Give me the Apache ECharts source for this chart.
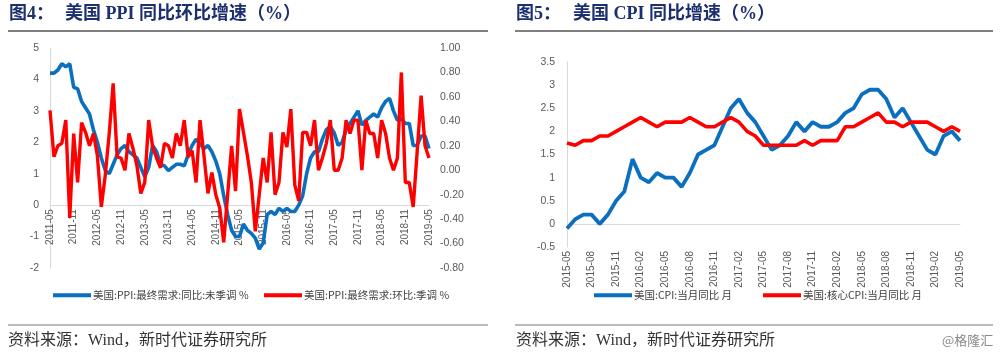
<!DOCTYPE html>
<html>
<head>
<meta charset="utf-8">
<script src="https://cdn.jsdelivr.net/npm/echarts@6/dist/echarts.min.js"></script>
<style>
html,body{margin:0;padding:0;background:#fff;}
#c{width:1000px;height:360px;}
</style>
</head>
<body>
<div id="c"></div>
<script>
// ---------- data ----------
function monthRange(y0, m0, y1, m1) {
  const out = [];
  let y = y0, m = m0;
  while (y < y1 || (y === y1 && m <= m1)) {
    out.push(y + '-' + (m < 10 ? '0' + m : '' + m));
    m++; if (m > 12) { m = 1; y++; }
  }
  return out;
}
const ppiMonths = monthRange(2011, 5, 2019, 5);   // 97 months
const cpiMonths = monthRange(2015, 5, 2019, 5);   // 49 months

const ppiYoY = [
  4.2, 4.2, 4.3, 4.5, 4.4, 4.5, 3.75, 3.7,
  3.3, 3.1, 2.9, 2.4, 2.0, 1.5, 1.1, 1.0, 1.3, 1.6, 1.8, 1.9,
  1.7, 1.6, 1.5, 1.2, 0.9, 1.2, 1.9, 1.7, 1.3, 1.25, 1.1, 1.2,
  1.3, 1.3, 1.25, 1.6, 1.9, 2.1, 1.95, 1.8, 1.9, 1.7, 1.4, 1.0,
  0.3, -0.3, -0.8, -1.0, -1.0, -0.6, -0.8, -0.9, -1.05, -1.4, -1.2, -0.3,
  -0.2, -0.3, -0.1, -0.2, -0.1, -0.2, -0.2, 0.0, 0.3, 1.0, 1.5, 1.7,
  1.7, 2.1, 2.4, 2.5, 2.3, 1.9, 2.0, 2.4, 2.6, 2.8, 3.0, 2.55,
  2.7, 2.8, 2.9, 2.8, 3.1, 3.3, 3.4, 3.0, 2.7, 2.75, 2.6, 2.6,
  1.9, 1.9, 2.2, 2.2, 1.8
];
const ppiMoM = [
  0.49, 0.11, 0.2, 0.22, 0.41, -0.39, 0.3, -0.1,
  0.39, 0.31, 0.2, 0.3, 0.12, -0.3, -0.04, 0.3, 0.71, 0.11, 0.1, 0.0,
  0.3, 0.18, 0.04, -0.19, -0.1, 0.41, 0.19, 0.1, 0.02, 0.22, 0.2, 0.1,
  0.3, 0.2, 0.41, 0.11, 0.16, -0.1, 0.41, 0.12, -0.19, -0.02, -0.2, -0.31,
  -0.59, -0.2, 0.2, -0.17, 0.5, 0.31, 0.12, -0.1, -0.5, -0.2, 0.1, -0.1,
  0.31, -0.2, -0.1, 0.31, 0.19, 0.5, -0.12, -0.25, 0.31, 0.31, 0.2, 0.41,
  0.0, 0.1, 0.22, 0.41, 0.0, 0.0, 0.1, 0.41, 0.3, 0.41, 0.41, 0.0,
  0.41, 0.3, 0.3, 0.1, 0.41, 0.3, 0.1, 0.0, 0.1, 0.8, -0.1, -0.1,
  -0.3, 0.15, 0.61, 0.2, 0.1
];
const cpiYoY = [
  -0.1, 0.1, 0.2, 0.2, 0.0, 0.2, 0.5, 0.7,
  1.4, 1.0, 0.9, 1.1, 1.0, 1.0, 0.8, 1.1, 1.5, 1.6, 1.7, 2.1,
  2.5, 2.7, 2.4, 2.2, 1.9, 1.6, 1.7, 1.9, 2.2, 2.0, 2.2, 2.1,
  2.1, 2.2, 2.4, 2.5, 2.8, 2.9, 2.9, 2.7, 2.3, 2.5, 2.2, 1.9,
  1.6, 1.5, 1.9, 2.0, 1.8
];
const coreCpiYoY = [
  1.75, 1.7, 1.8, 1.8, 1.9, 1.9, 2.0, 2.1,
  2.2, 2.3, 2.2, 2.1, 2.2, 2.2, 2.2, 2.3, 2.2, 2.1, 2.1, 2.2,
  2.3, 2.2, 2.0, 1.9, 1.7, 1.7, 1.7, 1.7, 1.7, 1.8, 1.7, 1.8,
  1.8, 1.8, 2.1, 2.1, 2.2, 2.3, 2.4, 2.2, 2.2, 2.1, 2.2, 2.2,
  2.2, 2.1, 2.0, 2.1, 2.0
];
const seriesNames = {
  ppiYoY: '美国:PPI:最终需求:同比:未季调 %',
  ppiMoM: '美国:PPI:最终需求:环比:季调 %',
  cpi: '美国:CPI:当月同比 月',
  core: '美国:核心CPI:当月同比 月'
};
const titles = {
  leftNo: '图4：', left: '美国 PPI 同比环比增速（%）',
  rightNo: '图5：', right: '美国 CPI 同比增速（%）',
  source: '资料来源：Wind，新时代证券研究所',
  mark: '@格隆汇'
};

// ---------- styling ----------
const BLUE = '#0b6fc0';
const RED = '#ff0000';
const AXIS_GRAY = '#d9d9d9';
const LABEL = '#595959';
const NUMFONT = "'Liberation Sans', Arial, sans-serif";
const CJK = "'Noto Sans CJK SC', sans-serif";
const SERIF = "'Liberation Serif', 'Noto Sans CJK SC', serif";

// left panel geometry (value axis -2..5)
const L_TOP = 48, L_H = 220, L_MIN = -2, L_MAX = 5;
const leftZeroOffset = -L_H * (0 - L_MIN) / (L_MAX - L_MIN);

const chart = echarts.init(document.getElementById('c'), null, {renderer: 'canvas'});

function legend(name, left) {
  return {
    data: [name], left: left, top: 285, icon: 'rect',
    itemWidth: 38, itemHeight: 4, itemGap: 0,
    textStyle: {fontSize: 10.5, color: '#404040', fontFamily: CJK, padding: [0, 0, 0, -3]},
    selectedMode: false
  };
}

const option = {
  animation: false,
  backgroundColor: '#ffffff',
  grid: [
    {left: 50, top: L_TOP, width: 379, height: L_H},
    {left: 567, top: 62, width: 393, height: 185}
  ],
  legend: [
    legend(seriesNames.ppiYoY, 48),
    legend(seriesNames.ppiMoM, 259),
    legend(seriesNames.cpi, 589),
    legend(seriesNames.core, 758)
  ],
  xAxis: [
    {
      gridIndex: 0, type: 'category', data: ppiMonths, boundaryGap: false,
      position: 'bottom', offset: leftZeroOffset,
      axisLine: {onZero: false, lineStyle: {color: AXIS_GRAY, width: 1}},
      axisTick: {show: false},
      axisLabel: {rotate: 90, interval: 5, fontSize: 10, color: LABEL, fontFamily: NUMFONT, margin: 4}
    },
    {
      gridIndex: 1, type: 'category', data: cpiMonths, boundaryGap: false,
      axisLine: {onZero: true, onZeroAxisIndex: 2, lineStyle: {color: AXIS_GRAY, width: 1}},
      axisTick: {show: false},
      axisLabel: {rotate: 90, interval: 2, fontSize: 10, color: LABEL, fontFamily: NUMFONT, margin: 4}
    }
  ],
  yAxis: [
    {
      gridIndex: 0, type: 'value', min: L_MIN, max: L_MAX, interval: 1, position: 'left',
      axisLine: {show: true, onZero: false, lineStyle: {color: AXIS_GRAY}},
      axisTick: {show: false}, splitLine: {show: false},
      axisLabel: {fontSize: 10.5, color: LABEL, fontFamily: NUMFONT, margin: 11}
    },
    {
      gridIndex: 0, type: 'value', min: -0.8, max: 1.0, interval: 0.2, position: 'right',
      axisLine: {show: false, onZero: false}, axisTick: {show: false}, splitLine: {show: false},
      axisLabel: {
        fontSize: 10.5, color: LABEL, fontFamily: NUMFONT, margin: 11,
        formatter: v => (Math.abs(v) < 1e-9 ? 0 : v).toFixed(2)
      }
    },
    {
      gridIndex: 1, type: 'value', min: -0.5, max: 3.5, interval: 0.5, position: 'left',
      axisLine: {show: true, onZero: false, lineStyle: {color: AXIS_GRAY}},
      axisTick: {show: false}, splitLine: {show: false},
      axisLabel: {fontSize: 10.5, color: LABEL, fontFamily: NUMFONT, margin: 12}
    }
  ],
  series: [
    {
      name: seriesNames.ppiYoY, type: 'line', xAxisIndex: 0, yAxisIndex: 0,
      data: ppiYoY, showSymbol: false, symbol: 'none',
      lineStyle: {color: BLUE, width: 3.6}, itemStyle: {color: BLUE}
    },
    {
      name: seriesNames.ppiMoM, type: 'line', xAxisIndex: 0, yAxisIndex: 1,
      data: ppiMoM, showSymbol: false, symbol: 'none',
      lineStyle: {color: RED, width: 3.4}, itemStyle: {color: RED}
    },
    {
      name: seriesNames.cpi, type: 'line', xAxisIndex: 1, yAxisIndex: 2,
      data: cpiYoY, showSymbol: false, symbol: 'none',
      lineStyle: {color: BLUE, width: 3.8}, itemStyle: {color: BLUE}
    },
    {
      name: seriesNames.core, type: 'line', xAxisIndex: 1, yAxisIndex: 2,
      data: coreCpiYoY, showSymbol: false, symbol: 'none',
      lineStyle: {color: RED, width: 3.6}, itemStyle: {color: RED}
    }
  ],
  graphic: [
    {type: 'text', left: 9, top: 5, style: {text: titles.leftNo, font: "bold 18px " + SERIF, fill: '#1c2f6e'}},
    {type: 'text', left: 65, top: 5, style: {text: titles.left, font: "bold 18px " + SERIF, fill: '#1c2f6e'}},
    {type: 'text', left: 516, top: 5, style: {text: titles.rightNo, font: "bold 18px " + SERIF, fill: '#1c2f6e'}},
    {type: 'text', left: 573, top: 5, style: {text: titles.right, font: "bold 18px " + SERIF, fill: '#1c2f6e'}},
    {type: 'line', shape: {x1: 8, y1: 31, x2: 488, y2: 31}, style: {stroke: '#555', lineWidth: 1.5}},
    {type: 'line', shape: {x1: 515, y1: 31, x2: 993, y2: 31}, style: {stroke: '#555', lineWidth: 1.5}},
    {type: 'line', shape: {x1: 8, y1: 325, x2: 488, y2: 325}, style: {stroke: '#777', lineWidth: 1.2}},
    {type: 'line', shape: {x1: 515, y1: 325, x2: 993, y2: 325}, style: {stroke: '#777', lineWidth: 1.2}},
    {type: 'text', left: 8, top: 333, style: {text: titles.source, font: "16px " + SERIF, fill: '#333'}},
    {type: 'text', left: 516, top: 333, style: {text: titles.source, font: "16px " + SERIF, fill: '#333'}},
    {type: 'text', left: 942, top: 334, style: {text: titles.mark, font: "13px " + CJK, fill: '#8a8a8a'}}
  ]
};
chart.setOption(option);
</script>
</body>
</html>
